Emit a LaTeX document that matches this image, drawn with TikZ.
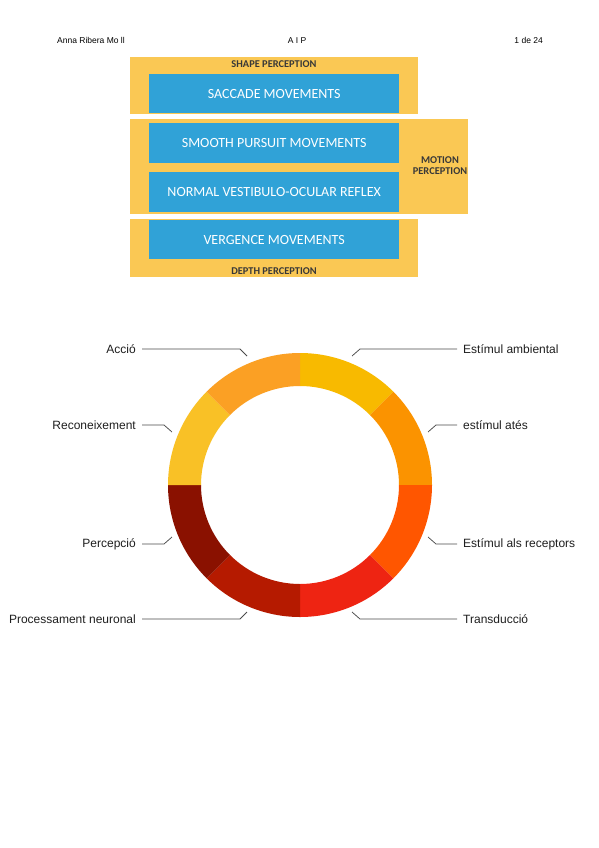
\documentclass[tikz,border=0pt]{standalone}
\usepackage{fontspec}
\setmainfont{Liberation Sans}
\newfontfamily\calibri{Carlito}
\definecolor{boxyellow}{HTML}{FAC854}
\definecolor{boxblue}{HTML}{30A2D7}
\definecolor{cAmb}{HTML}{F8BA00}
\definecolor{cAtes}{HTML}{FB9300}
\definecolor{cRec}{HTML}{FF5600}
\definecolor{cTra}{HTML}{EE2412}
\definecolor{cPro}{HTML}{B51A00}
\definecolor{cPer}{HTML}{8A1100}
\definecolor{cRcn}{HTML}{F9C126}
\definecolor{cAcc}{HTML}{FBA024}
\definecolor{leadgray}{HTML}{4A4A4A}
\begin{document}
\begin{tikzpicture}[x=1pt,y=-1pt,
  ybox/.style={fill=boxyellow, draw=none, anchor=north west, inner sep=0pt},
  bbox/.style={fill=boxblue, draw=none, anchor=north west, inner sep=0pt},
  btext/.style={text=white, font=\calibri\fontsize{14}{16}\selectfont, inner sep=0pt},
  ptext/.style={text=black!78, font=\calibri\bfseries\fontsize{10.4}{11}\selectfont, inner sep=0pt, align=center},
  hdr/.style={font=\fontsize{8.5}{10}\selectfont, inner sep=0pt, text=black},
  lab/.style={font=\fontsize{12}{14}\selectfont, inner sep=0pt, text=black!88},
  lead/.style={draw=leadgray, line width=0.75pt}]
\useasboundingbox (0,0) rectangle (599,848);
\fill[white] (0,0) rectangle (599,848);

% header
\node[hdr, anchor=base west] (hl) at (57,44) {Anna Ribera Mo ll};
\node[hdr, anchor=base] (hc) at (297,44) {A I P};
\node[hdr, anchor=base east] (hr) at (543,44) {1 de 24};

% top picture
\node[ybox, minimum width=288pt, minimum height=57pt] (shape) at (130,57) {};
\node[ybox, minimum width=338pt, minimum height=95pt] (motion) at (130,119) {};
\node[ybox, minimum width=288pt, minimum height=58pt] (depth) at (130,219) {};
\node[bbox, minimum width=250pt, minimum height=39pt] (sac) at (149,74) {};
\node[bbox, minimum width=250pt, minimum height=40pt] (smo) at (149,123) {};
\node[bbox, minimum width=250pt, minimum height=40pt] (vor) at (149,172) {};
\node[bbox, minimum width=250pt, minimum height=39pt] (ver) at (149,220) {};
\node[btext] (sact) at (sac.center) {SACCADE MOVEMENTS};
\node[btext] (smot) at (smo.center) {SMOOTH PURSUIT MOVEMENTS};
\node[btext] (vort) at (vor.center) {NORMAL VESTIBULO-OCULAR REFLEX};
\node[btext] (vert) at (ver.center) {VERGENCE MOVEMENTS};
\node[ptext] (shapet) at (274,64) {SHAPE PERCEPTION};
\node[ptext] (deptht) at (274,271) {DEPTH PERCEPTION};
\node[ptext] (motiont) at (440,165.5) {MOTION\\PERCEPTION};

% ring
\begin{scope}[shift={(300,485)}]
\foreach \a/\b/\c in {90/45/cAmb, 45/0/cAtes, 0/-45/cRec, -45/-90/cTra,
                      -90/-135/cPro, -135/-180/cPer, 180/135/cRcn, 135/90/cAcc}{
  \fill[\c] (\a:132pt) arc[start angle=\a, end angle=\b, radius=132pt]
     -- (\b:99pt) arc[start angle=\b, end angle=\a, radius=99pt] -- cycle;
}
\end{scope}

% labels left
\node[lab, anchor=east] (acc) at (136,349) {Acció};
\node[lab, anchor=east] (rcn) at (136,425) {Reconeixement};
\node[lab, anchor=east] (per) at (136,544) {Percepció};
\node[lab, anchor=east] (pro) at (136,619) {Processament neuronal};
% labels right
\node[lab, anchor=west] (amb) at (463,349) {Estímul ambiental};
\node[lab, anchor=west] (ate) at (463,425) {estímul atés};
\node[lab, anchor=west] (rec) at (463,544) {Estímul als receptors};
\node[lab, anchor=west] (tra) at (463,619) {Transducció};

% leader coordinates
\coordinate (accA) at (240,349); \coordinate (accB) at (247,356);
\coordinate (rcnA) at (164,425); \coordinate (rcnB) at (172,432);
\coordinate (perA) at (164,544); \coordinate (perB) at (172,537);
\coordinate (proA) at (240,619); \coordinate (proB) at (247,612);
\coordinate (ambA) at (360,349); \coordinate (ambB) at (352,356);
\coordinate (ateA) at (436,425); \coordinate (ateB) at (428,432);
\coordinate (recA) at (436,544); \coordinate (recB) at (428,537);
\coordinate (traA) at (360,619); \coordinate (traB) at (352,612);

\draw[lead] ([xshift=6pt]acc.east) -- (accA) -- (accB);
\draw[lead] ([xshift=6pt]rcn.east) -- (rcnA) -- (rcnB);
\draw[lead] ([xshift=6pt]per.east) -- (perA) -- (perB);
\draw[lead] ([xshift=6pt]pro.east) -- (proA) -- (proB);
\draw[lead] ([xshift=-6pt]amb.west) -- (ambA) -- (ambB);
\draw[lead] ([xshift=-6pt]ate.west) -- (ateA) -- (ateB);
\draw[lead] ([xshift=-6pt]rec.west) -- (recA) -- (recB);
\draw[lead] ([xshift=-6pt]tra.west) -- (traA) -- (traB);
\end{tikzpicture}
\end{document}
